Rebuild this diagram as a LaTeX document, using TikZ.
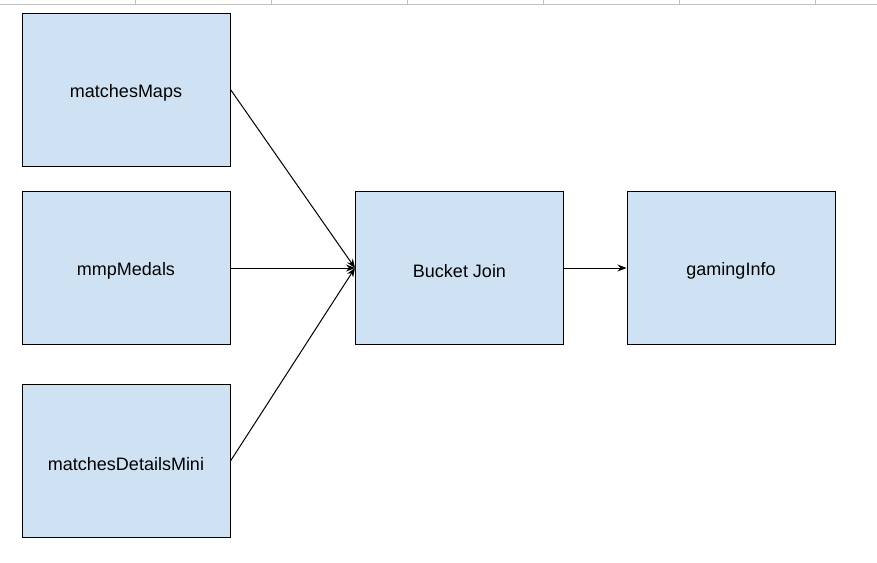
\documentclass[tikz,border=0pt]{standalone}
\usepackage{fontspec}
\setmainfont{Liberation Sans}
\usetikzlibrary{arrows.meta}
\definecolor{boxfill}{HTML}{CFE2F3}
\definecolor{gridgray}{HTML}{C0C0C0}
\begin{document}
\begin{tikzpicture}[x=1pt,y=-1pt,
  box/.style={draw=black,line width=1pt,fill=boxfill,minimum width=208pt,minimum height=153pt,inner sep=0pt,font=\fontsize{18}{21}\selectfont},
  lbl/.style={font=\fontsize{18}{21}\selectfont,inner sep=0pt},
  conn/.style={line width=1pt,-{Stealth[length=9pt,width=7pt]}}]
\useasboundingbox (0,0) rectangle (877,562);
\draw[gridgray,line width=1pt] (0,4.5) -- (877,4.5);
\foreach \x in {135,271,407,543,679,815}{\draw[gridgray,line width=0.8pt] (\x,0) -- (\x,4.5);}
\node[box] (mm) at (126,89.5) {};
\node[box] (mp) at (126,268) {};
\node[box] (md) at (126,461) {};
\node[box] (bj) at (459.5,268) {};
\node[box] (gi) at (731,268) {};
\node[lbl] (tmm) at ([yshift=-3pt]mm.center) {matchesMaps};
\node[lbl] (tmp) at ([yshift=-3pt]mp.center) {mmpMedals};
\node[lbl] (tmd) at ([yshift=-3pt]md.center) {matchesDetailsMini};
\node[lbl] (tbj) at ([yshift=-3pt]bj.center) {Bucket Join};
\node[lbl] (tgi) at ([yshift=-3pt]gi.center) {gamingInfo};
\draw[conn] (mm.east) -- (bj.west);
\draw[conn] (mp.east) -- (bj.west);
\draw[conn] (md.east) -- (bj.west);
\draw[conn] (bj.east) -- (gi.west);
\end{tikzpicture}
\end{document}
